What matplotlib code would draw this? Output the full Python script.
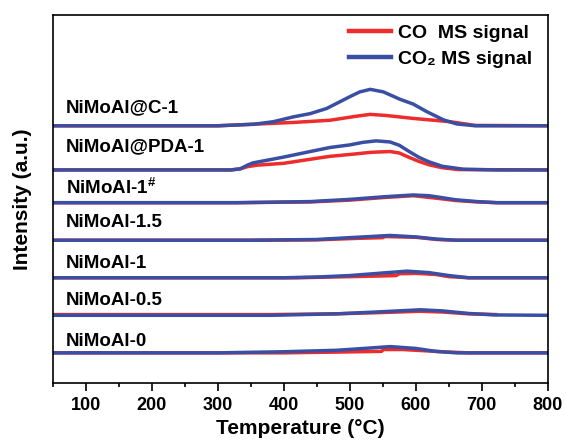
import matplotlib
matplotlib.use("Agg")
import matplotlib.pyplot as plt

plt.rcParams["font.family"] = ["Liberation Sans", "DejaVu Sans"]
plt.rcParams["font.weight"] = "bold"
plt.rcParams["mathtext.fontset"] = "custom"
plt.rcParams["mathtext.bf"] = "Liberation Sans:bold"
plt.rcParams["mathtext.rm"] = "Liberation Sans:bold"
plt.rcParams["mathtext.default"] = "bf"

RED = "#EE2C2C"
BLUE = "#3A4FA3"

# sample names, bottom to top, and where each trace sits
samples = ["NiMoAl-0", "NiMoAl-0.5", "NiMoAl-1", "NiMoAl-1.5",
           r"NiMoAl-1$^{\#}$", "NiMoAl@PDA-1", "NiMoAl@C-1"]
baselines = [8.2, 18.4, 28.6, 38.8, 49.0, 57.9, 69.9]
label_y = [11.2, 22.4, 32.6, 43.5, 53.0, 64.2, 74.7]

# CO MS signal (temperature, intensity above baseline)
co_0_t = [50, 400, 480, 548, 551, 580, 620, 650, 680, 800]
co_0_v = [0, 0, 0.2, 0.4, 0.9, 0.9, 0.5, 0.2, 0, 0]
co_05_t = [50, 380, 480, 540, 607, 640, 680, 721]
co_05_v = [0.2, 0.2, 0.4, 0.7, 1.1, 0.9, 0.4, 0.2]
co_1_t = [50, 420, 500, 550, 570, 575, 600, 630, 650, 680, 800]
co_1_v = [0, 0, 0.3, 0.5, 0.6, 1.1, 1.2, 0.9, 0.3, 0, 0]
co_15_t = [50, 350, 450, 510, 550, 553, 600, 632, 662, 800]
co_15_v = [0, 0, 0.1, 0.5, 0.7, 1.0, 0.8, 0.2, 0, 0]
co_1h_t = [50, 330, 440, 500, 551, 596, 632, 660, 693, 723, 800]
co_1h_v = [0, 0, 0.2, 0.7, 1.4, 1.9, 1.2, 0.6, 0.2, 0, 0]
co_pda_t = [50, 320, 334, 345, 360, 400, 440, 470, 500, 533, 561, 575, 590, 605, 620, 640, 665, 800]
co_pda_v = [0, 0, 0.3, 0.9, 1.3, 1.8, 2.9, 3.7, 4.2, 4.8, 5.0, 4.6, 3.4, 2.3, 1.4, 0.6, 0.1, 0]
co_c_t = [50, 300, 350, 414, 470, 510, 531, 555, 596, 652, 690, 800]
co_c_v = [0, 0, 0.4, 0.9, 1.5, 2.6, 3.1, 2.8, 2.0, 1.1, 0.1, 0]

# CO2 MS signal
co2_0_t = [50, 300, 400, 480, 530, 561, 600, 630, 662, 800]
co2_0_v = [0, 0, 0.3, 0.7, 1.3, 1.7, 1.2, 0.4, 0, 0]
co2_05_t = [50, 380, 480, 540, 607, 640, 680, 720, 800]
co2_05_v = [0, 0, 0.4, 0.9, 1.5, 1.2, 0.5, 0.1, 0]
co2_1_t = [50, 400, 450, 500, 550, 587, 620, 650, 680, 800]
co2_1_v = [0, 0, 0.2, 0.6, 1.3, 1.8, 1.4, 0.6, 0, 0]
co2_15_t = [50, 350, 450, 510, 561, 600, 632, 662, 800]
co2_15_v = [0, 0, 0.2, 0.8, 1.3, 0.9, 0.3, 0, 0]
co2_1h_t = [50, 330, 440, 500, 551, 596, 620, 635, 660, 693, 723, 800]
co2_1h_v = [0, 0, 0.3, 0.9, 1.6, 2.1, 1.9, 1.5, 0.8, 0.3, 0, 0]
co2_pda_t = [50, 320, 334, 345, 353, 400, 440, 470, 500, 520, 540, 561, 575, 590, 605, 620, 640, 672, 720, 800]
co2_pda_v = [0, 0, 0.3, 1.3, 1.9, 3.5, 5.0, 6.1, 6.8, 7.5, 7.9, 7.6, 6.7, 5.0, 3.4, 2.2, 1.0, 0.2, 0, 0]
co2_c_t = [50, 300, 354, 384, 414, 440, 465, 500, 515, 531, 551, 576, 596, 617, 642, 662, 690, 800]
co2_c_v = [0, 0, 0.4, 1.1, 2.4, 3.3, 4.7, 7.9, 9.2, 9.9, 9.2, 7.2, 5.9, 3.8, 1.6, 0.5, 0, 0]

co_series = [(co_0_t, co_0_v), (co_05_t, co_05_v), (co_1_t, co_1_v), (co_15_t, co_15_v),
             (co_1h_t, co_1h_v), (co_pda_t, co_pda_v), (co_c_t, co_c_v)]
co2_series = [(co2_0_t, co2_0_v), (co2_05_t, co2_05_v), (co2_1_t, co2_1_v), (co2_15_t, co2_15_v),
              (co2_1h_t, co2_1h_v), (co2_pda_t, co2_pda_v), (co2_c_t, co2_c_v)]

fig = plt.figure(figsize=(5.66, 4.40), dpi=100)
ax = fig.add_axes([0.093, 0.1295, 0.875, 0.8364])

for i in range(len(samples)):
    t, v = co_series[i]
    ax.plot(t, [b + baselines[i] for b in v], color=RED, lw=2.5,
            label="CO  MS signal" if i == 0 else None, solid_joinstyle="round")
for i in range(len(samples)):
    t, v = co2_series[i]
    ax.plot(t, [b + baselines[i] for b in v], color=BLUE, lw=2.5,
            label="CO₂ MS signal" if i == 0 else None, solid_joinstyle="round")

for name, y in zip(samples, label_y):
    ax.text(70, y, name, fontsize=13.5, fontweight="bold", va="center", ha="left")

ax.set_xlim(50, 800)
ax.set_ylim(0, 100)
ax.set_xticks(range(100, 801, 100))
ax.set_xticks(range(50, 801, 50), minor=True)
ax.set_yticks([])
ax.tick_params(axis="x", which="major", length=6, width=1.2, labelsize=13, pad=4)
ax.tick_params(axis="x", which="minor", length=3, width=1.2)
for sp in ax.spines.values():
    sp.set_linewidth(1.2)

ax.set_xlabel("Temperature (°C)", fontsize=15, fontweight="bold", labelpad=4)
ax.set_ylabel("Intensity (a.u.)", fontsize=15, fontweight="bold", labelpad=15)

leg = ax.legend(loc="upper right", bbox_to_anchor=(0.968, 0.975), frameon=False,
                fontsize=14, handlelength=2.15, handletextpad=0.36,
                labelspacing=0.45, borderpad=0, borderaxespad=0)
for line in leg.get_lines():
    line.set_linewidth(3.2)

fig.savefig("out.png", dpi=100)
